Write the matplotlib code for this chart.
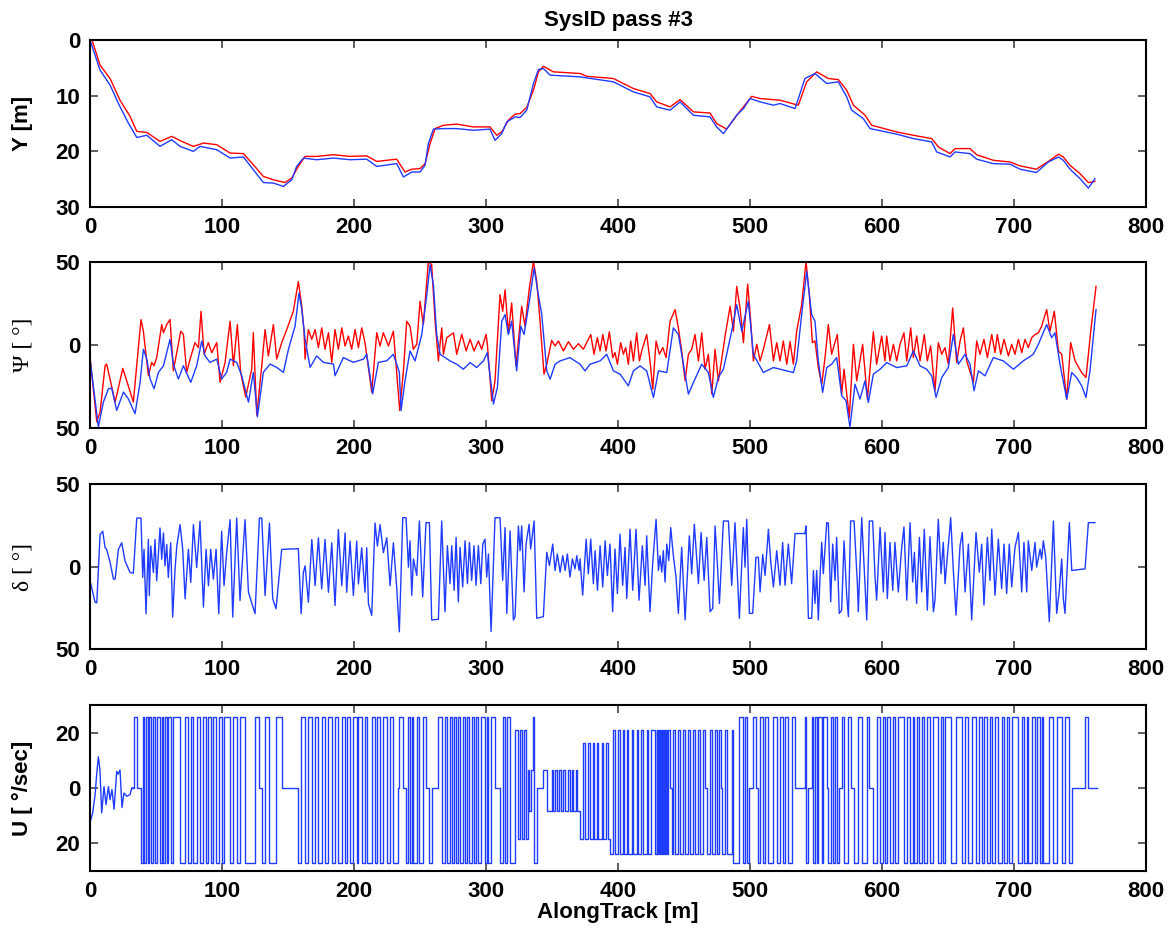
import numpy as np
import matplotlib
matplotlib.use('Agg')
import matplotlib.pyplot as plt

plt.rcParams['font.family'] = ['Liberation Sans', 'DejaVu Sans']

# ---- panel 1: cross-track position Y [m]  (x, Y)
y_red = [(1.5, 0), (7.6, 4.5), (15.2, 6.9), (22.7, 10.8), (30.3, 13.7), (35.4, 16.4),
         (43.0, 16.6), (53.0, 18.2), (61.9, 17.3), (69.5, 18.2), (78.3, 19.1), (86.0, 18.5),
         (96.0, 18.8), (106.1, 20.3), (116.2, 20.4), (123.7, 22.4), (131.3, 24.5), (138.9, 25.1),
         (147.7, 25.6), (152.8, 24.8), (157.8, 22.7), (162.9, 20.9), (171.7, 20.9), (184.4, 20.6),
         (197.0, 20.9), (209.6, 20.8), (217.2, 21.8), (232.3, 21.4), (238.6, 23.7), (243.7, 23.2),
         (250.0, 23.1), (253.8, 22.2), (257.6, 18.6), (261.4, 15.9), (267.7, 15.3), (277.8, 15.1),
         (290.4, 15.6), (303.0, 15.6), (308.1, 17.1), (311.9, 16.5), (316.9, 14.4), (322.0, 13.3),
         (325.8, 13.2), (330.8, 12.1), (335.9, 9.0), (339.7, 5.7), (343.4, 4.7), (351.0, 5.7),
         (371.2, 6.0), (376.3, 6.5), (396.5, 6.9), (411.6, 8.7), (424.2, 9.6), (429.3, 11.1),
         (439.4, 12.0), (447.0, 10.7), (457.1, 12.9), (469.7, 13.1), (474.7, 15.0), (482.3, 16.0),
         (489.9, 13.5), (495.0, 12.0), (501.3, 10.1), (507.6, 10.5), (517.7, 10.7), (522.7, 10.8),
         (536.6, 11.7), (542.9, 7.5), (550.5, 5.7), (559.3, 6.9), (566.9, 7.1), (573.2, 9.0),
         (578.3, 11.7), (587.1, 13.5), (592.1, 15.3), (611.1, 16.5), (623.7, 17.1), (637.6, 17.7),
         (642.7, 19.2), (651.5, 20.4), (655.3, 19.5), (666.6, 19.5), (671.7, 20.6), (684.3, 21.6),
         (697.0, 21.9), (704.5, 22.6), (716.9, 23.2), (727.2, 21.6), (733.6, 20.5), (737.3, 21.0),
         (742.4, 22.5), (750.0, 24.0), (756.3, 25.6), (761.3, 25.4)]
y_blue = [(0, 0), (7.6, 5.4), (15.2, 8.1), (21.5, 11.4), (29.0, 14.9), (35.4, 17.5),
          (43.0, 17.1), (53.0, 19.1), (61.9, 17.9), (68.2, 19.1), (78.3, 20.0), (83.3, 19.1),
          (96.0, 19.7), (106.1, 21.2), (116.2, 21.0), (123.7, 23.3), (131.3, 25.6), (138.9, 25.7),
          (146.5, 26.3), (152.8, 25.1), (156.5, 22.7), (161.6, 21.2), (171.7, 21.5), (184.4, 21.2),
          (197.0, 21.5), (209.6, 21.4), (217.2, 22.7), (232.3, 22.2), (237.4, 24.6), (243.7, 23.7),
          (250.0, 23.7), (253.8, 22.5), (256.3, 18.6), (260.1, 16.0), (267.7, 15.9), (277.8, 15.9),
          (290.4, 16.2), (303.0, 16.0), (306.8, 18.0), (311.9, 16.8), (315.7, 14.7), (322.0, 13.8),
          (325.8, 13.9), (330.8, 12.6), (335.9, 7.8), (339.7, 5.3), (343.4, 5.1), (348.5, 6.3),
          (371.2, 6.6), (396.5, 7.5), (411.6, 9.3), (424.2, 10.2), (429.3, 12.0), (439.4, 12.6),
          (447.0, 11.1), (457.1, 13.5), (469.7, 13.8), (474.7, 15.6), (479.8, 16.8), (489.9, 13.5),
          (495.0, 12.3), (500.0, 10.5), (507.6, 11.1), (517.7, 11.7), (522.7, 11.4), (534.1, 12.3),
          (541.6, 6.9), (549.2, 6.0), (558.1, 7.8), (566.9, 7.5), (573.2, 10.2), (577.0, 12.6),
          (585.8, 14.1), (590.9, 15.9), (611.1, 16.9), (623.7, 17.7), (637.6, 18.3), (641.4, 20.1),
          (651.5, 21.0), (655.3, 20.1), (666.6, 20.4), (671.7, 21.4), (684.3, 22.2), (697.0, 22.3),
          (704.5, 23.2), (716.9, 23.8), (726.0, 21.9), (733.6, 21.0), (737.3, 21.6), (742.4, 23.2),
          (750.0, 24.9), (756.3, 26.6), (761.3, 24.9)]

# ---- panel 2: heading Psi [deg]  (x, value)
psi_red = [(0.0, -7.6), (5.1, -46.3), (7.6, -40.4), (11.4, -12.5), (12.6, -11.5), (19.0, -34.4),
           (24.8, -14.1), (32.8, -34.4), (38.6, 15.3), (40.4, 8.3), (44.2, -18.5), (46.7, -10.5),
           (48.5, -12.5), (50.5, -7.6), (54.3, 12.3), (55.6, 7.4), (58.1, 12.3), (60.6, 15.3),
           (63.1, -15.5), (65.7, -4.6), (68.7, 8.3), (70.7, 6.4), (73.2, -16.5), (75.8, -8.5),
           (79.5, 1.4), (82.1, -1.6), (84.1, 20.3), (86.4, -5.6), (89.6, 1.4), (92.2, -4.6),
           (96.0, 1.4), (98.5, -22.5), (102.3, -10.5), (106.1, 14.3), (108.6, -12.5), (111.6, 12.3),
           (114.1, -16.5), (117.9, -31.4), (122.5, -14.5), (123.7, 7.4), (126.3, -42.3), (130.1, -12.5),
           (132.6, 9.3), (135.1, -6.6), (138.9, 12.3), (141.4, -8.5), (145.2, 1.4), (149.0, 9.3),
           (154.0, 20.3), (157.8, 38.2), (160.4, 23.3), (162.1, 8.3), (162.9, -8.5), (165.4, 9.3),
           (168.0, 3.4), (170.5, 9.3), (173.0, -1.6), (175.5, 10.3), (178.0, -2.6), (180.6, 7.4),
           (183.1, -10.5), (185.6, 9.3), (188.1, -2.6), (190.7, 10.3), (193.2, -0.6), (195.7, 5.4),
           (198.2, -2.6), (200.8, 9.3), (203.3, -1.6), (205.8, 10.3), (208.3, 1.4), (213.4, -28.4),
           (217.2, 7.4), (219.7, -0.6), (222.2, 7.4), (226.0, -0.6), (229.8, 8.3), (234.6, -39.5),
           (237.4, -15.6), (239.9, 14.3), (242.4, 11.3), (244.9, -2.6), (247.5, 0.4), (250.0, 26.3),
           (252.5, 12.3), (256.3, 50.3), (258.8, 48.3), (261.4, 14.3), (263.9, -9.6), (266.4, 10.3),
           (267.7, -5.6), (270.2, 4.4), (275.3, 7.3), (277.8, -5.6), (281.6, 6.4), (284.9, -3.6),
           (287.9, 3.4), (290.9, -3.6), (294.2, 2.4), (296.7, -2.6), (300.0, 6.4), (301.0, 0.4),
           (304.3, -33.6), (306.8, -21.6), (310.6, 30.3), (312.6, 20.3), (314.4, 33.3), (316.9, 7.3),
           (319.4, 25.3), (322.7, -12.6), (327.0, 23.3), (329.5, 11.3), (332.8, 34.3), (335.9, 50.3),
           (338.4, 38.3), (340.9, 14.3), (343.9, -17.6), (346.0, -11.6), (349.7, 2.8), (352.3, -0.6),
           (354.8, 2.4), (358.6, -3.6), (362.4, 2.0), (366.2, -2.6), (370.0, 0.8), (373.7, -2.6),
           (379.3, 6.3), (381.8, -5.6), (384.3, 4.4), (386.4, -3.6), (388.4, 6.3), (390.9, -3.6),
           (393.4, 7.9), (396.0, -7.6), (397.7, -4.6), (399.5, -11.6), (402.0, 1.4), (404.0, -5.6),
           (405.8, -1.6), (407.8, -11.6), (409.6, 2.4), (411.6, -9.6), (414.1, 7.3), (416.2, -9.6),
           (417.9, -3.6), (421.7, 6.3), (424.2, -9.6), (426.3, -26.6), (428.8, 2.4), (431.3, -5.6),
           (433.9, -1.6), (436.4, -7.6), (439.4, 14.3), (443.2, 21.3), (445.7, 10.3), (448.2, -3.6),
           (450.8, -21.6), (453.3, -5.6), (455.8, -2.6), (458.3, 6.3), (460.9, -9.6), (463.4, 7.3),
           (465.9, -14.6), (468.4, -5.6), (471.0, -29.5), (473.5, -2.6), (476.0, -21.6), (478.5, -8.6),
           (481.1, 5.4), (484.9, 23.3), (487.4, 8.3), (489.9, 35.3), (492.4, 22.3), (495.0, 1.4),
           (498.2, 36.7), (500.5, 14.3), (502.5, -9.6), (505.1, 0.4), (507.6, -9.6), (510.1, -2.6),
           (514.7, 12.3), (517.7, -9.6), (520.2, 1.4), (522.7, -9.6), (525.2, 2.4), (527.8, -11.6),
           (530.3, 2.0), (532.8, -11.6), (535.3, 8.3), (539.1, 24.3), (542.4, 50.3), (544.9, 30.3),
           (547.2, 1.4), (549.2, 2.4), (551.7, -13.6), (554.3, -23.6), (556.8, -7.6), (559.3, 12.3),
           (561.8, -5.6), (563.9, 0.4), (566.1, 6.3), (569.4, -29.6), (571.2, -14.6), (572.7, -25.6),
           (575.2, -43.6), (578.3, 0.4), (580.8, -21.6), (585.3, 0.4), (588.9, -32.6), (593.4, 7.9),
           (595.9, -11.6), (599.7, 5.4), (602.2, -9.6), (603.5, 5.4), (606.0, -9.6), (608.6, 0.4),
           (611.1, -9.6), (613.6, 0.4), (616.6, 7.3), (618.7, -9.6), (621.7, 10.3), (623.7, -7.6),
           (626.2, 5.4), (628.8, -9.6), (632.0, 6.3), (634.3, -9.6), (636.8, -0.6), (640.1, -27.6),
           (642.6, 1.4), (645.2, -5.6), (647.7, -1.6), (650.2, -11.6), (653.5, 22.3), (656.5, -10.6),
           (659.1, 2.4), (661.6, 10.3), (664.1, -9.6), (669.2, -22.6), (671.7, 2.4), (674.2, -5.6),
           (677.2, 3.4), (679.8, -7.6), (683.1, 6.3), (685.6, -4.6), (687.3, 6.3), (689.9, -5.6),
           (692.4, 3.4), (695.7, -6.6), (698.2, 0.4), (700.7, -5.6), (703.3, 3.4), (705.8, -4.6),
           (708.3, 3.4), (710.8, -1.6), (713.4, 4.4), (715.9, 6.3), (718.4, 7.3), (720.9, 11.3),
           (724.7, 21.3), (727.2, 8.3), (730.5, 20.3), (733.6, -3.6), (736.1, -5.6), (739.9, -32.6),
           (742.9, 1.4), (746.2, -9.6), (751.2, -16.6), (754.5, -19.6), (758.1, 8.3), (762.1, 35.3)]
psi_blue = [(0.0, -8.5), (6.3, -49.3), (10.1, -34.4), (13.9, -26.4), (16.4, -26.0), (20.2, -39.4),
            (25.3, -28.4), (29.0, -32.4), (34.1, -41.4), (37.9, -22.5), (40.4, -2.6), (43.0, -8.5),
            (45.5, -20.5), (48.5, -26.4), (51.8, -16.5), (55.6, -12.5), (60.6, 3.4), (63.1, -11.5),
            (66.9, -20.5), (70.7, -12.5), (76.3, -22.5), (80.8, -12.5), (84.6, 2.4), (87.1, -6.6),
            (90.9, -10.5), (96.0, -8.5), (99.7, -20.5), (103.5, -16.5), (106.1, -8.5), (111.1, -10.5),
            (114.9, -18.5), (120.0, -34.4), (123.7, -16.5), (126.8, -43.3), (131.3, -16.5), (136.4, -11.5),
            (141.4, -13.5), (146.5, -16.5), (150.3, -2.6), (155.3, 11.3), (158.3, 31.2), (160.4, 21.3),
            (162.9, 3.4), (166.7, -13.5), (171.7, -6.6), (176.8, -10.5), (184.4, -11.5), (185.6, -18.5),
            (191.9, -7.6), (199.5, -10.5), (207.1, -8.5), (209.6, -5.6), (214.1, -29.4), (218.4, -10.5),
            (224.8, -9.5), (229.8, -5.6), (234.3, -16.5), (235.6, -39.5), (238.6, -21.6), (242.4, -3.6),
            (246.2, -9.6), (251.3, 6.3), (255.1, 30.3), (257.6, 48.3), (260.1, 36.3), (262.6, 6.3),
            (265.2, -5.6), (272.7, -9.6), (277.8, -11.6), (282.8, -14.6), (287.9, -10.6), (292.9, -13.6),
            (298.0, -9.6), (301.0, -4.6), (305.6, -35.6), (308.6, -25.6), (311.9, 14.3), (314.4, 18.3),
            (316.9, 6.3), (319.4, 14.3), (323.2, -15.6), (326.3, 11.3), (328.8, 6.3), (332.8, 26.3),
            (336.4, 46.3), (339.6, 30.3), (342.2, 18.3), (346.0, -15.6), (348.5, -20.6), (352.3, -11.6),
            (356.1, -9.6), (363.6, -7.6), (371.2, -11.6), (375.0, -15.6), (378.8, -11.6), (386.4, -9.6),
            (391.4, -5.6), (396.5, -15.6), (401.5, -17.6), (407.8, -24.6), (411.6, -15.6), (416.7, -12.6),
            (421.7, -15.6), (426.8, -31.6), (430.6, -15.6), (436.9, -16.6), (441.9, 10.3), (445.7, 6.3),
            (449.5, -11.6), (453.3, -29.6), (457.1, -22.6), (463.4, -11.6), (468.4, -16.6), (472.2, -31.6),
            (476.0, -19.6), (479.8, -14.6), (486.1, 8.3), (489.9, 24.3), (493.7, 8.3), (498.7, 26.3),
            (502.5, -5.6), (510.1, -16.6), (517.7, -13.6), (522.7, -14.6), (532.8, -16.6), (535.3, -9.6),
            (539.1, 18.3), (542.9, 44.3), (546.7, 18.3), (549.2, 14.3), (551.7, -9.6), (555.0, -28.6),
            (558.1, -13.6), (561.8, -11.6), (565.6, -7.6), (569.4, -30.6), (572.7, -33.6), (575.7, -49.5),
            (579.5, -23.6), (583.3, -32.6), (587.1, -21.6), (589.6, -34.6), (593.4, -17.6), (598.5, -14.6),
            (603.5, -10.6), (611.1, -13.6), (618.7, -12.6), (623.7, -3.6), (628.8, -12.6), (633.8, -14.6),
            (637.6, -18.6), (640.9, -31.6), (645.2, -19.6), (650.2, -13.6), (654.0, 6.3), (657.8, -11.6),
            (662.9, -5.6), (666.6, -11.6), (669.7, -27.6), (673.0, -15.6), (678.0, -18.6), (684.3, -7.6),
            (691.9, -9.6), (699.5, -14.6), (707.0, -9.6), (714.6, -5.6), (718.4, 0.4), (724.7, 12.3),
            (728.5, 4.4), (731.0, 7.3), (734.8, -11.6), (739.9, -32.6), (743.7, -16.6), (747.4, -19.6),
            (751.2, -24.6), (754.5, -31.6), (757.5, -15.6), (762.1, 21.3)]

# ---- panel 3: rudder angle delta [deg]  (x, value)
delta = [(0.0, -8.6), (3.8, -21.6), (5.1, -22.0), (7.6, 19.4), (9.6, 21.4), (11.4, 11.4),
         (12.6, 10.4), (15.2, 2.4), (17.7, -7.6), (19.0, -7.6), (21.5, 10.4), (24.0, 14.4),
         (26.5, 3.4), (30.3, -3.6), (32.8, -4.0), (35.4, 29.4), (38.6, 29.4), (39.9, -6.6),
         (40.9, 10.4), (42.4, -28.6), (44.2, 16.4), (44.9, -17.6), (46.0, 12.4), (48.0, -3.6),
         (49.2, 16.4), (50.5, -8.6), (53.0, 23.4), (54.3, 4.4), (55.6, 20.4), (56.8, 0.4),
         (58.1, 13.4), (59.3, -6.6), (61.1, 14.4), (62.6, -30.6), (64.4, -1.6), (65.7, 12.4),
         (68.2, 25.4), (70.2, 10.4), (72.0, -19.6), (74.5, 10.4), (76.3, -9.6), (78.3, 25.4),
         (80.8, -0.6), (83.3, 27.4), (85.9, -24.6), (87.9, 10.4), (89.7, -11.6), (91.4, 10.4),
         (93.4, -7.6), (95.5, 10.4), (97.5, -28.6), (99.7, 21.4), (101.5, -11.6), (103.5, 8.4),
         (106.1, 28.4), (108.1, -30.6), (111.1, 29.4), (113.6, -20.6), (117.4, 28.4), (120.0, -15.6),
         (125.0, -28.6), (128.3, 29.4), (130.1, 29.4), (132.6, -17.6), (135.9, 26.4), (138.4, -19.6),
         (140.9, -25.6), (145.2, 10.4), (157.8, 10.8), (159.9, -28.6), (161.6, -3.6), (162.9, 0.4),
         (165.4, -21.6), (168.0, 16.4), (170.5, -11.6), (173.0, 17.4), (175.5, -13.6), (178.0, 16.4),
         (180.6, -15.6), (183.1, 14.4), (185.6, -23.6), (188.1, 22.4), (190.7, -11.6), (193.2, 20.4),
         (194.4, -15.6), (197.0, 15.4), (199.5, -17.6), (202.0, 15.4), (203.3, -10.6), (205.8, 11.4),
         (208.3, -15.6), (209.6, 11.4), (210.9, -22.6), (213.4, -29.6), (215.9, 26.4), (217.7, 12.4),
         (219.7, 25.4), (222.2, 8.4), (224.8, 17.4), (227.3, -11.6), (229.8, 14.4), (232.3, -12.6),
         (234.3, -39.6), (236.9, 29.6), (239.4, 29.6), (241.2, -0.4), (242.4, 15.6), (243.7, -17.4),
         (245.0, 4.6), (247.5, -5.4), (249.5, 27.6), (252.0, -18.4), (254.5, 26.6), (257.1, 26.6),
         (258.8, -32.4), (263.9, -32.0), (266.4, 27.6), (268.9, -27.4), (270.7, 12.6), (272.7, -10.4),
         (274.0, 12.6), (275.8, -14.4), (277.3, 17.6), (279.0, -21.4), (280.3, 11.6), (282.3, -12.4),
         (284.1, 15.6), (285.9, -10.4), (287.4, 14.6), (289.1, -8.4), (290.9, 12.6), (292.4, -11.4),
         (294.2, 12.6), (296.0, -10.4), (297.5, 13.6), (299.2, 16.6), (300.5, -6.4), (301.8, 7.6),
         (303.8, -39.4), (306.8, 29.6), (310.6, 29.6), (312.6, -8.4), (314.4, 23.6), (315.7, -28.4),
         (318.2, 21.6), (320.7, -32.4), (322.0, -30.4), (324.5, 24.6), (325.8, 9.6), (327.0, 24.6),
         (328.8, -15.4), (330.3, 13.6), (332.6, 25.6), (333.8, 10.6), (336.4, 27.6), (338.4, -31.4),
         (343.4, -30.4), (346.0, 8.6), (348.0, 0.6), (350.5, 13.6), (352.3, -2.4), (354.0, 7.6),
         (356.1, -3.4), (358.1, 6.6), (359.9, -2.4), (361.6, 7.6), (363.6, -6.4), (365.4, 4.6),
         (367.4, -1.4), (368.7, 6.6), (370.5, -2.4), (371.2, 4.6), (373.2, -17.4), (375.8, 16.6),
         (377.5, -4.4), (379.3, 16.6), (381.3, -10.4), (382.6, 9.6), (384.4, -14.4), (386.4, 12.6),
         (388.4, -12.4), (390.2, 15.6), (391.9, -5.4), (393.9, 13.6), (395.9, -27.4), (397.7, 10.6),
         (399.5, -16.4), (401.5, 19.6), (403.5, -11.4), (405.3, 11.6), (406.6, -19.4), (409.1, 22.6),
         (411.1, -14.4), (413.6, 22.6), (415.9, -20.4), (418.4, 12.6), (420.5, -11.4), (421.7, 18.6),
         (424.2, -27.4), (426.3, 2.6), (428.8, 28.6), (430.6, -2.4), (431.8, 6.6), (433.1, -3.4),
         (434.3, 9.6), (435.6, -9.4), (436.9, 13.6), (438.4, 3.6), (439.9, 23.6), (441.9, 6.6),
         (443.9, -6.4), (445.7, -28.4), (448.2, 11.6), (450.8, -32.4), (454.0, 18.6), (455.8, -4.4),
         (457.8, 25.6), (460.9, -10.4), (462.9, 20.6), (465.2, -8.4), (467.2, 17.6), (469.7, -27.4),
         (471.7, -25.4), (473.5, 24.6), (475.3, 0.6), (476.8, -22.4), (479.8, 27.6), (483.6, 27.6),
         (486.1, -11.4), (488.6, 26.6), (491.9, -31.4), (494.9, 23.6), (496.2, -0.4), (497.5, 28.6),
         (499.5, -28.4), (502.0, -28.4), (504.5, 5.6), (506.3, 5.6), (507.6, -15.4), (509.6, 7.2),
         (511.4, -5.4), (513.9, 22.6), (515.7, 2.6), (517.7, -12.4), (520.2, 9.6), (522.7, -11.4),
         (524.7, 14.6), (526.5, -11.4), (529.0, 13.6), (531.5, -10.4), (534.1, 20.0), (541.6, 20.0),
         (542.4, 24.6), (544.2, -31.4), (546.7, -31.4), (548.0, -2.4), (549.2, -22.4), (550.5, -2.4),
         (551.7, -32.4), (553.0, -6.4), (554.3, 14.6), (555.5, -4.4), (558.1, 26.6), (559.3, 26.4),
         (561.1, -21.4), (562.6, 13.6), (564.4, -8.4), (565.6, 17.6), (567.6, -28.4), (569.4, -26.4),
         (571.2, 15.6), (573.2, -17.4), (574.5, -30.4), (576.2, 27.6), (578.8, 27.6), (581.3, -10.4),
         (582.0, -27.4), (584.6, 29.6), (587.1, -10.4), (588.4, -32.4), (590.4, 27.6), (592.9, 27.6),
         (594.7, -6.4), (595.9, -20.4), (598.5, 23.6), (601.0, -15.4), (602.2, 20.6), (604.0, -19.4),
         (606.0, 14.6), (608.1, -14.4), (609.8, 14.6), (612.3, -15.4), (614.9, 11.6), (616.6, 24.0),
         (618.7, -20.4), (621.2, 26.6), (623.2, -9.4), (624.5, 8.6), (626.2, -22.4), (628.3, 17.6),
         (630.0, -15.4), (632.0, 22.6), (634.3, -26.4), (636.3, 18.0), (638.9, -27.4), (640.1, -20.4),
         (642.6, 28.6), (644.7, -4.4), (646.4, 14.6), (647.7, -10.4), (649.5, 6.6), (652.0, 29.6),
         (654.0, -2.4), (656.0, -29.4), (659.1, 12.6), (660.8, 20.6), (662.9, -15.4), (665.4, 13.6),
         (667.9, -32.4), (671.2, 20.6), (673.7, -3.4), (675.5, 13.6), (677.2, -23.4), (679.8, 17.6),
         (681.8, -8.4), (683.1, 22.6), (685.6, -17.4), (688.1, 16.6), (690.6, -13.4), (692.4, 13.6),
         (694.4, -16.4), (696.4, 13.6), (698.2, -12.4), (700.7, 11.6), (703.3, 20.6), (705.8, -15.4),
         (707.5, 14.6), (709.6, -15.4), (710.8, 15.6), (713.4, -2.4), (715.9, 14.6), (717.1, -0.4),
         (719.7, 10.6), (720.9, 4.6), (722.2, 15.6), (724.0, 5.6), (726.7, -33.4), (729.8, 27.6),
         (732.3, -28.4), (734.3, -14.4), (736.1, 4.6), (737.3, -19.4), (738.6, -28.4), (741.9, 26.6),
         (743.7, -2.4), (753.8, -1.4), (756.3, 26.6), (761.3, 26.6)]

# ---- panel 4: rudder rate command U [deg/sec]
# first stretch is a continuous signal (x, value)
u_free = [(0, -12.5), (2.0, -9.0), (3.8, -2.5), (5.0, 4.8), (6.3, 11.3), (7.5, 6.5),
          (8.8, -9.0), (10.6, 0.5), (12.1, -6.0), (13.9, 0.5), (15.1, -4.2), (16.6, -0.6),
          (18.2, -7.7), (20.2, 6.0), (21.2, 5.0), (22.7, 6.5), (24.2, -7.1), (25.7, -1.8),
          (27.8, -3.0), (30.3, -2.4), (31.6, 0.0), (33.3, 0.0)]
# then a switched command: (switch x, level held until the next switch)
u_steps = [(33.3, 25.5), (35.4, 0), (38.6, -27), (39.9, 25.5), (40.9, -27), (42.4, 25.5),
           (44.2, -27), (44.9, 25.5), (46.0, -27), (48.0, 25.5), (49.2, -27), (50.5, 25.5),
           (53.0, -27), (54.3, 25.5), (55.6, -27), (56.8, 25.5), (58.1, -27), (59.3, 25.5),
           (61.1, -27), (62.6, 25.5), (68.2, -27), (72.0, 25.5), (74.5, -27), (76.3, 25.5),
           (78.3, -27), (80.8, 25.5), (83.3, -27), (85.9, 25.5), (87.9, -27), (89.7, 25.5),
           (91.4, -27), (93.4, 25.5), (95.5, -27), (97.5, 25.5), (99.7, -27), (101.5, 25.5),
           (106.1, -27), (108.1, 25.5), (111.1, -27), (113.6, 25.5), (117.4, -27), (125.0, 25.5),
           (128.3, 0), (130.1, -27), (132.6, 25.5), (135.9, -27), (140.9, 25.5), (145.2, 0),
           (157.8, -27), (159.9, 25.5), (162.9, -27), (165.4, 25.5), (168.0, -27), (170.5, 25.5),
           (173.0, -27), (175.5, 25.5), (178.0, -27), (180.6, 25.5), (183.1, -27), (185.6, 25.5),
           (188.1, -27), (190.7, 25.5), (193.2, -27), (194.4, 25.5), (197.0, -27), (199.5, 25.5),
           (202.0, -27), (203.3, 25.5), (205.8, -27), (208.3, 25.5), (209.6, -27), (213.4, 25.5),
           (215.9, -27), (217.7, 25.5), (219.7, -27), (222.2, 25.5), (224.8, -27), (227.3, 25.5),
           (229.8, -27), (233.0, 0), (234.3, 25.5), (236.9, 0), (239.4, -27), (241.2, 25.5),
           (242.4, -27), (243.7, 25.5), (245.0, -27), (247.5, 25.5), (249.5, -27), (252.0, 25.5),
           (254.5, 0), (257.1, -27), (258.8, 0), (263.9, 25.5), (266.4, -27), (268.9, 25.5),
           (270.7, -27), (272.7, 25.5), (274.0, -27), (275.8, 25.5), (277.3, -27), (279.0, 25.5),
           (280.3, -27), (282.3, 25.5), (284.1, -27), (285.9, 25.5), (287.4, -27), (289.1, 25.5),
           (290.9, -27), (292.4, 25.5), (294.2, -27), (296.0, 25.5), (299.2, -27), (300.5, 25.5),
           (301.8, -27), (303.8, 25.5), (306.8, 0), (310.6, -27), (312.6, 25.5), (314.4, -27),
           (315.7, 25.5), (318.2, -27), (322.0, 21), (324.5, -18.5), (325.8, 21), (327.0, -18.5),
           (328.8, 21), (330.3, -18.5), (331.5, 6.5), (332.6, -8.3), (333.8, 6.5), (335.5, 25.5),
           (336.4, -27), (338.4, 0), (343.4, 6.5), (345.9, -8.3), (349.7, 6.5), (351.0, -8.3),
           (352.2, 6.5), (353.5, -8.3), (355.5, 6.5), (356.5, -8.3), (358.5, 6.5), (359.8, -8.3),
           (362.3, 6.5), (363.6, -8.3), (364.8, 6.5), (366.1, -8.3), (368.1, 6.5), (369.1, -8.3),
           (371.2, -18.5), (373.2, 16.3), (374.9, -18.5), (377.5, 16.3), (378.7, -18.5), (380.8, 16.3),
           (382.0, -18.5), (383.8, 16.3), (385.1, -18.5), (387.6, 16.3), (388.8, -18.5), (390.9, 16.3),
           (392.6, -18.5), (393.9, -23.8), (395.9, 21), (397.7, -23.8), (400.2, 21), (401.5, -23.8),
           (403.5, 21), (404.5, -23.8), (406.5, 21), (407.8, -23.8), (410.3, 21), (411.6, -23.8),
           (414.1, 21), (415.4, -23.8), (417.1, 21), (419.2, -23.8), (421.7, 21), (422.9, -23.8),
           (424.7, 21), (428.0, -23.8), (429.2, 21), (429.7, -23.8), (430.5, 21), (431.3, -23.8),
           (432.0, 21), (432.8, -23.8), (433.5, 21), (434.3, -23.8), (435.0, 21), (435.8, -23.8),
           (436.6, 21), (437.3, -23.8), (438.1, 21), (439.3, 0), (440.5, -23.8), (441.9, 21),
           (443.1, -23.8), (445.7, 21), (446.9, -23.8), (449.4, 21), (450.7, -23.8), (453.2, 21),
           (454.5, -23.8), (457.0, 21), (458.3, -23.8), (460.8, 21), (462.1, -23.8), (464.6, 21),
           (465.9, 0), (467.3, -23.8), (469.6, 21), (470.9, -23.8), (473.4, 21), (474.7, -23.8),
           (476.7, 21), (477.7, 0), (478.8, -23.8), (481.0, 21), (482.3, -23.8), (486.1, 21),
           (487.3, -27), (491.9, 25.5), (494.9, -27), (496.2, 25.5), (497.5, -27), (499.5, 0),
           (502.0, 25.5), (504.5, 0), (506.3, -27), (507.6, 25.5), (509.6, -27), (511.4, 25.5),
           (513.9, -27), (517.7, 25.5), (520.2, -27), (522.7, 25.5), (524.7, -27), (526.5, 25.5),
           (529.0, -27), (531.5, 25.5), (534.1, 0), (541.6, 25.5), (542.4, -27), (544.2, 0),
           (546.7, 25.5), (548.0, -27), (549.2, 25.5), (550.5, -27), (551.7, 25.5), (554.3, -27),
           (555.5, 25.5), (558.1, 0), (559.3, -27), (561.1, 25.5), (562.6, -27), (564.4, 25.5),
           (565.6, -27), (567.6, 0), (569.4, 25.5), (571.2, -27), (574.5, 25.5), (576.2, 0),
           (578.8, -27), (582.0, 25.5), (584.6, -27), (588.4, 25.5), (590.4, 0), (592.9, -27),
           (595.9, 25.5), (598.5, -27), (601.0, 25.5), (602.2, -27), (604.0, 25.5), (606.0, -27),
           (608.1, 25.5), (609.8, -27), (612.3, 25.5), (616.6, -27), (618.7, 25.5), (621.2, -27),
           (623.2, 25.5), (624.5, -27), (626.2, 25.5), (628.3, -27), (630.0, 25.5), (632.0, -27),
           (634.3, 25.5), (636.3, -27), (638.9, 25.5), (642.6, -27), (644.7, 25.5), (646.4, -27),
           (647.7, 25.5), (652.0, -27), (656.0, 25.5), (660.8, -27), (662.9, 25.5), (665.4, -27),
           (667.9, 25.5), (671.2, -27), (673.7, 25.5), (675.5, -27), (677.2, 25.5), (679.8, -27),
           (681.8, 25.5), (683.1, -27), (685.6, 25.5), (688.1, -27), (690.6, 25.5), (692.4, -27),
           (694.4, 25.5), (696.4, -27), (698.2, 25.5), (703.3, -27), (705.8, 25.5), (707.5, -27),
           (709.6, 25.5), (710.8, -27), (713.4, 25.5), (715.9, -27), (717.1, 25.5), (719.7, -27),
           (720.9, 25.5), (722.2, -27), (726.7, 25.5), (729.8, -27), (732.3, 25.5), (736.1, -27),
           (738.6, 25.5), (741.9, -27), (743.7, 0), (753.8, 25.5), (756.3, 0), (763.0, 0)]

RED = '#ff0000'
BLUE = '#1f3cff'
LW = 1.0

fig = plt.figure(figsize=(11.71, 9.33), dpi=100)
W = 0.9018
L = 0.0769
axes = [fig.add_axes([L, 0.7781, W, 0.1789]),
        fig.add_axes([L, 0.5413, W, 0.1779]),
        fig.add_axes([L, 0.3044, W, 0.1768]),
        fig.add_axes([L, 0.0665, W, 0.1779])]

ax1, ax2, ax3, ax4 = axes

xs, ys = zip(*y_red)
ax1.plot(xs, ys, color=RED, lw=LW)
xs, ys = zip(*y_blue)
ax1.plot(xs, ys, color=BLUE, lw=LW)
ax1.set_ylim(30, 0)
ax1.set_yticks([0, 10, 20, 30])

xs, ys = zip(*psi_red)
ax2.plot(xs, ys, color=RED, lw=LW)
xs, ys = zip(*psi_blue)
ax2.plot(xs, ys, color=BLUE, lw=LW)
ax2.set_ylim(-50, 50)
ax2.set_yticks([-50, 0, 50])
ax2.set_yticklabels(['50', '0', '50'])

xs, ys = zip(*delta)
ax3.plot(xs, ys, color=BLUE, lw=LW)
ax3.set_ylim(-50, 50)
ax3.set_yticks([-50, 0, 50])
ax3.set_yticklabels(['50', '0', '50'])

xs, ys = zip(*u_free)
ax4.plot(xs, ys, color=BLUE, lw=LW)
sx, sy = zip(*([(31.6, 0.0)] + u_steps))
ax4.step(sx, sy, where='post', color=BLUE, lw=LW)
ax4.set_ylim(-30, 30)
ax4.set_yticks([-20, 0, 20])
ax4.set_yticklabels(['20', '0', '20'])

for ax in axes:
    ax.set_xlim(0, 800)
    ax.set_xticks(range(0, 801, 100))
    ax.tick_params(direction='in', top=True, right=True, length=6, width=1.2,
                   color='#444444', labelsize=16, pad=7)
    for lab in ax.get_xticklabels() + ax.get_yticklabels():
        lab.set_fontweight('bold')
    for sp in ax.spines.values():
        sp.set_linewidth(1.5)

ax1.set_ylabel('Y [m]', fontsize=16, fontweight='bold')
ax2.set_ylabel('\u03a8 [ \u00b0]', fontsize=17, family=['Liberation Serif', 'DejaVu Serif'])
ax3.set_ylabel('\u03b4 [ \u00b0]', fontsize=17, family=['Liberation Serif', 'DejaVu Serif'])
ax4.set_ylabel('U [ \u00b0/sec]', fontsize=16, fontweight='bold')
for ax in axes:
    ax.yaxis.set_label_coords(-0.054, 0.5)

ax1.set_title('SysID pass #3', fontsize=16, fontweight='bold', pad=10)
ax4.set_xlabel('AlongTrack [m]', fontsize=16, fontweight='bold', labelpad=0)

fig.savefig('out.png', dpi=100)
